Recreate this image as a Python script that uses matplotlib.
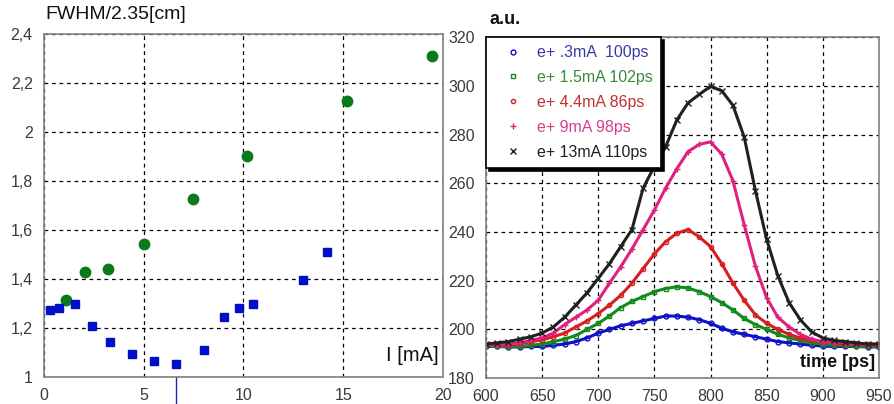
import numpy as np
import matplotlib as mpl
mpl.use('Agg')
import matplotlib.pyplot as plt
from matplotlib.ticker import FuncFormatter

plt.rcParams['font.family'] = ['Liberation Sans', 'DejaVu Sans']

# left panel: beam size vs current
current_green = [1.12, 2.04, 3.22, 5.0, 7.48, 10.19, 15.19, 19.43]
size_green = [1.314, 1.428, 1.442, 1.543, 1.728, 1.902, 2.127, 2.31]
current_blue = [0.30, 0.77, 1.54, 2.42, 3.31, 4.41, 5.51, 6.62, 8.0, 9.01,
                9.77, 10.49, 12.98, 14.2]
size_blue = [1.273, 1.283, 1.297, 1.209, 1.144, 1.094, 1.065, 1.053, 1.109,
             1.246, 1.281, 1.297, 1.397, 1.511]
marked_current = 6.6

# right panel: bunch profiles
time_ps = list(range(600, 951, 10))
prof_03 = [193, 193, 192.8, 192.8, 193, 193, 193.5, 194, 195, 196.5,
           198.5, 200, 201.5, 202.5, 203.5, 204.5, 205.5, 205.5, 205, 204,
           202.5, 200.5, 199, 198, 197, 196, 195, 194.5, 194, 193.5,
           193.2, 193, 193, 193, 192.8, 192.8]
prof_15 = [193, 193, 193, 193, 193.5, 194, 195, 196, 197.5, 200,
           202.5, 205.5, 209, 211.5, 213.5, 215.5, 216.8, 217.5, 217, 215.5,
           213.5, 211, 208, 204.5, 202, 200, 198, 196.5, 195.5, 194.5,
           194, 193.5, 193.5, 193, 193, 193]
prof_44 = [193.5, 193.5, 193.5, 194, 195, 195.7, 197, 198.5, 201, 203.5,
           206.5, 210, 214, 219, 225, 231, 236, 239.5, 241, 238,
           234, 227, 219, 212, 206, 202.5, 200, 198, 196.5, 195.5,
           195, 194.5, 194, 194, 193.5, 193.5]
prof_9 = [193.5, 193.5, 194, 194.5, 195.5, 196.5, 198.5, 202, 205, 208,
          212, 219, 225.7, 233, 241, 249, 258, 266, 273, 276,
          277, 272, 261, 243, 226, 213, 205, 201, 198, 196,
          195, 194.5, 194.5, 194, 194, 194]
prof_13 = [194, 194.5, 195, 196, 197, 198.5, 201, 205, 210, 215,
           221, 227, 234, 241, 258, 267, 275, 286, 293, 296.5,
           299.8, 298, 292, 279, 257, 237, 222, 211, 204, 199,
           196.5, 195.5, 195, 194.5, 194, 194]
profile_labels = ['e+ .3mA  100ps', 'e+ 1.5mA 102ps', 'e+ 4.4mA 86ps',
                  'e+ 9mA 98ps', 'e+ 13mA 110ps']
profile_colors = ['#1010c8', '#138a1e', '#d42020', '#e0207f', '#202020']
legend_colors = ['#3a3aa8', '#3a8a3a', '#c03030', '#d04090', '#202020']

fig = plt.figure(figsize=(8.95, 4.04), dpi=100)
ax1 = fig.add_axes([0.049, 0.067, 0.446, 0.849])
ax2 = fig.add_axes([0.543, 0.064, 0.439, 0.844])

tick_col = '#3a3a3a'
for ax in (ax1, ax2):
    for s in ax.spines.values():
        s.set_color('#808080')
        s.set_linewidth(1.2)
    ax.grid(True, color='black', linestyle=(0, (3, 3)), linewidth=0.9)
    ax.tick_params(length=0, labelsize=11.5, labelcolor=tick_col, pad=8)
    ax.set_axisbelow(True)

# left
ax1.plot(current_green, size_green, 'o', color='#0b7a1a', markersize=7.5)
ax1.plot(current_blue, size_blue, 's', color='#0010c8', markersize=5.5)
ax1.plot([marked_current, marked_current], [1.0, 0.89], color='#2020c0',
         linewidth=1, clip_on=False)
ax1.set_xlim(0, 20)
ax1.set_ylim(1.0, 2.4)
ax1.set_xticks([0, 5, 10, 15, 20])
ax1.set_yticks([1.0, 1.2, 1.4, 1.6, 1.8, 2.0, 2.2, 2.4])
ax1.yaxis.set_major_formatter(FuncFormatter(lambda v, p: f'{v:g}'.replace('.', ',')))
ax1.text(0.99, 0.035, 'I [mA]', transform=ax1.transAxes, ha='right',
         va='bottom', fontsize=14.5, color='#111111')
fig.text(0.051, 0.963, 'FWHM/2.35[cm]', fontsize=14, color='#111111',
         va='center')

# right
styles = [dict(marker='o', fillstyle='none', markersize=3.5),
          dict(marker='s', fillstyle='none', markersize=3.5),
          dict(marker='o', fillstyle='none', markersize=3),
          dict(marker='+', markersize=5),
          dict(marker='x', markersize=4)]
profiles = [prof_03, prof_15, prof_44, prof_9, prof_13]
for prof, lab, col, st in zip(profiles, profile_labels, profile_colors, styles):
    ax2.plot(time_ps, prof, color=col, linewidth=2.2, label=lab, **st)

ax2.set_xlim(600, 950)
ax2.set_ylim(180, 320)
ax2.set_xticks(range(600, 951, 50))
ax2.set_yticks(range(180, 321, 20))
ax2.text(0.99, 0.02, 'time [ps]', transform=ax2.transAxes, ha='right',
         va='bottom', fontsize=13, fontweight='bold', color='#111111')
fig.text(0.547, 0.952, 'a.u.', fontsize=13, fontweight='bold',
         color='#111111', va='center')

leg = ax2.legend(loc='upper left', borderaxespad=0, fancybox=False,
                 shadow={'color': 'black', 'alpha': 1}, framealpha=1,
                 edgecolor='black', fontsize=11.5, labelspacing=0.62,
                 handlelength=2.4, handletextpad=0.3, borderpad=0.5,
                 labelcolor=legend_colors)
leg.get_frame().set_linewidth(1.2)
for line in leg.get_lines():
    line.set_linestyle('none')

fig.savefig('out.png', dpi=100)
